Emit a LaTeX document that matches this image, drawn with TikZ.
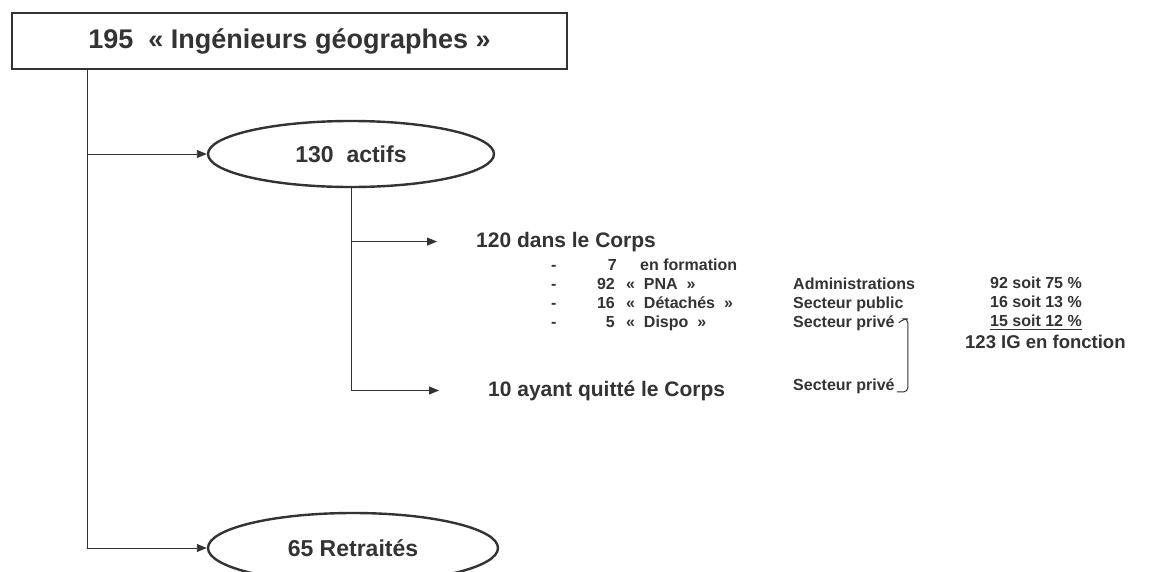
\documentclass[tikz,border=0pt]{standalone}
\usepackage{fontspec}
\setmainfont{Liberation Sans}
\usetikzlibrary{shapes.geometric,arrows.meta,positioning}

\definecolor{ink}{HTML}{333333}

\tikzset{
  titlebox/.style={draw=ink, line width=2.4pt, minimum width=555pt, minimum height=56pt,
    text=ink, font=\fontsize{27}{31}\selectfont\bfseries},
  ovalbox/.style={draw=ink, ellipse, line width=2.4pt, inner sep=0pt,
    text=ink, font=\fontsize{23}{27}\selectfont\bfseries},
  branch/.style={draw=ink, line width=0.9pt},
  arrowline/.style={branch, -{Triangle[length=10pt,width=8pt]}},
  bigtext/.style={anchor=base west, inner sep=0pt, text=ink,
    font=\fontsize{21}{25}\selectfont\bfseries},
  listtext/.style={anchor=base west, inner sep=0pt, text=ink,
    font=\fontsize{16}{20}\selectfont\bfseries},
  listnum/.style={listtext, anchor=base east},
  bracket/.style={draw=ink, line width=1pt, rounded corners=4pt},
}

\begin{document}
\begin{tikzpicture}[x=1pt,y=-1pt]
    \useasboundingbox (0,0) rectangle (1149,571);
    \clip (0,0) rectangle (1149,571);
    \fill[white] (0,0) rectangle (1149,571);

    % Top box and the two ovals
    \node[titlebox] (ig) at (289.5,41) {195~~« Ingénieurs géographes »};
    \node[ovalbox, minimum width=286pt, minimum height=66pt] (actifs) at (351,154) {130~~actifs};
    \node[ovalbox, minimum width=290pt, minimum height=70pt] (retraites) at (353,548) {65 Retraités};

    \coordinate (trunk) at ([xshift=77pt]ig.south west);
    \draw[arrowline] (trunk) |- (actifs.west);
    \draw[arrowline] (trunk) |- (retraites.west);

    % Actifs
    \node[bigtext] (corps) at (476,247) {120 dans le Corps};
    \node[bigtext] (quitte) at (488,396) {10 ayant quitté le Corps};
    \draw[arrowline] (actifs.south) |- ([xshift=-39pt]corps.west);
    \draw[arrowline] (actifs.south) |- ([xshift=-49pt]quitte.west);

    % Detail of the Corps
    \node[listtext] (d1) at (551,270) {-};
    \node[listtext] (d2) at (551,289) {-};
    \node[listtext] (d3) at (551,308) {-};
    \node[listtext] (d4) at (551,327) {-};
    \node[listnum] (n1) at (617,270) {7};
    \node[listnum] (n2) at (615,289) {92};
    \node[listnum] (n3) at (615,308) {16};
    \node[listnum] (n4) at (615,327) {5};
    \node[listtext] (formation) at (640,270) {en formation};
    \node[listtext] (pna) at (626,289) {«~~PNA~~»};
    \node[listtext] (detaches) at (626,308) {«~~Détachés~~»};
    \node[listtext] (dispo) at (626,327) {«~~Dispo~~»};

    % Secteurs
    \node[listtext] (adm) at (793,289) {Administrations};
    \node[listtext] (pub) at (793,308) {Secteur public};
    \node[listtext] (priv) at (793,327) {Secteur privé};
    \node[listtext] (privb) at (793,390) {Secteur privé};
    \draw[bracket] ([xshift=4pt]priv.east) -- ++(5,-4) -- ++(4,0) |- ([xshift=2pt,yshift=-6pt]privb.east);

    % Totaux
    \node[listtext] (v92) at (990,288) {92 soit 75 \%};
    \node[listtext] (v16) at (990,307) {16 soit 13 \%};
    \node[listtext] (v15) at (990,326) {15 soit 12 \%};
    \draw[ink, line width=1pt] ([yshift=-3pt]v15.base west) -- ([yshift=-3pt]v15.base east);
    \node[listtext, font=\fontsize{18.5}{22}\selectfont\bfseries] (fonction) at (965,348) {123 IG en fonction};
\end{tikzpicture}
\end{document}
